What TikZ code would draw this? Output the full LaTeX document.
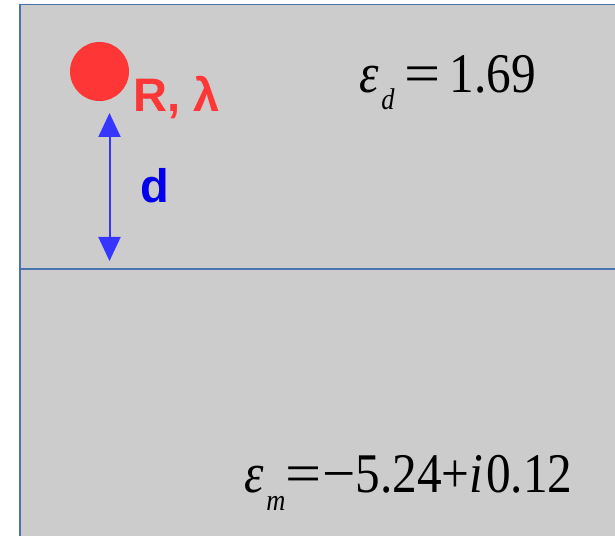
\documentclass[tikz,border=0pt]{standalone}
\usepackage{fontspec}
\setmainfont{Liberation Serif}
\setsansfont{Liberation Sans}
\definecolor{bg}{HTML}{CCCCCC}
\definecolor{edge}{HTML}{4A72B0}
\definecolor{prt}{HTML}{FF3636}
\definecolor{darr}{HTML}{3535FF}
\definecolor{dtxt}{HTML}{0000EE}
\usetikzlibrary{arrows.meta,positioning}
\tikzset{
  >={Triangle[length=24pt,width=22pt]},
  medium/.style={fill=bg,draw=edge,line width=1.5pt},
  iface/.style={draw=edge,line width=1.5pt},
  lab/.style={font=\sffamily\bfseries\fontsize{47}{50}\selectfont,inner sep=0pt,anchor=base west},
  eq/.style={font=\fontsize{56}{60}\selectfont,inner sep=0pt,anchor=base west},
  gaparr/.style={<->,draw=darr,line width=2pt},
}
\newcommand{\epsub}[1]{{\itshape ε}\hspace{3pt}\raisebox{-17pt}{\fontsize{30}{32}\selectfont\itshape #1}}
\newcommand{\wide}[1]{\scalebox{1.3}[1]{#1}}

\begin{document}
\begin{tikzpicture}[x=1pt,y=1pt]
\useasboundingbox (0,0) rectangle (615,535);
\clip (0,0) rectangle (615,535);
\draw[medium] (20,-5) rectangle (620,530.5);
\draw[iface] (20,266) -- (620,266);
% particle above the interface
\node[circle,fill=prt,minimum size=59pt,inner sep=0pt] (np) at (99.5,463.5) {};
\node[lab,text=prt] (rl) at (133,423) {R, λ};
\coordinate (dtop) at (109.5,422);
\coordinate (dbot) at (109.5,274);
\draw[gaparr] (dtop) -- (dbot);
\node[lab,text=dtxt] (dl) at (140,332) {d};
% permittivities
\node[eq] (epsd) at (359,442) {\scalebox{0.88}[1]{\epsub{d}\hspace{11pt}\wide{=}\hspace{11pt}1.69}};
\node[eq] (epsm) at (244,42) {\scalebox{0.88}[1]{\epsub{m}\wide{=}\hspace{1pt}\scalebox{1.2}[1]{−}5.24+{\itshape i}\hspace{3pt}0.12}};
\end{tikzpicture}
\end{document}
